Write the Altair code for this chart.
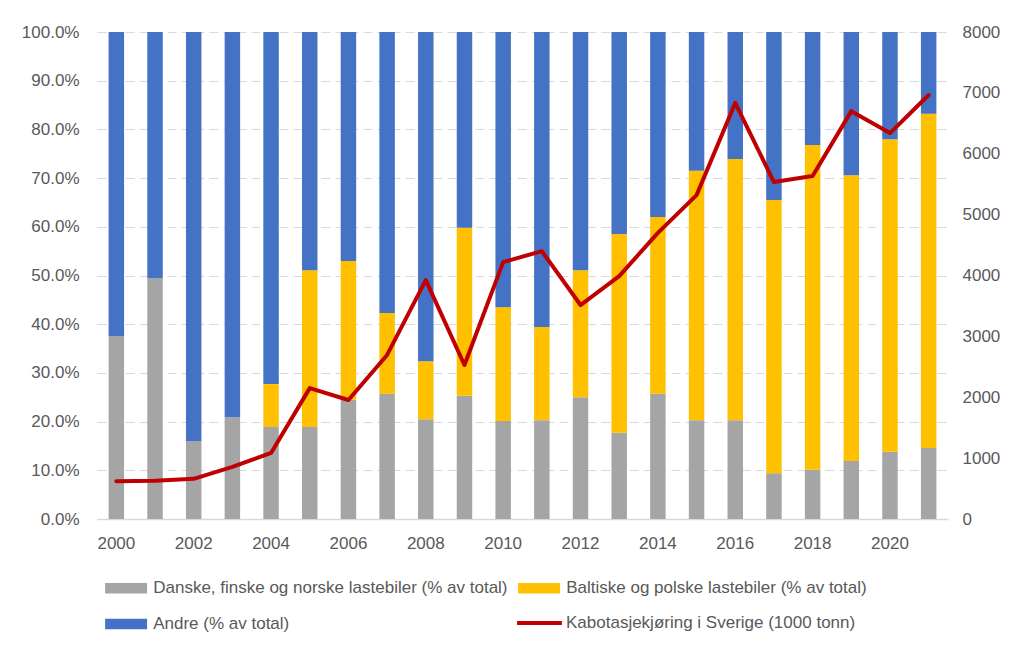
import altair as alt
import pandas as pd

years = list(range(2000, 2022))
danske = [37.6, 49.5, 16.0, 20.9, 18.9, 18.9, 24.5, 25.7, 20.5, 25.3, 20.1, 20.3,
          25.0, 17.7, 25.7, 20.3, 20.3, 9.4, 10.1, 11.9, 13.8, 14.6]
baltiske = [0, 0, 0, 0, 8.8, 32.2, 28.5, 16.6, 11.9, 34.5, 23.4, 19.1,
            26.1, 40.8, 36.3, 51.2, 53.6, 56.1, 66.7, 58.7, 64.2, 68.6]
andre = [62.4, 50.5, 84.0, 79.1, 72.3, 48.9, 47.0, 57.7, 67.6, 40.2, 56.5, 60.6,
         48.9, 41.5, 38.0, 28.5, 26.1, 34.5, 23.2, 29.4, 22.0, 16.8]
kabotasje = [620, 630, 660, 855, 1085, 2150, 1955, 2695, 3925, 2530, 4220, 4400,
             3515, 3990, 4700, 5320, 6835, 5535, 5635, 6700, 6340, 6965]

series_names = ["Danske, finske og norske lastebiler (% av total)",
                "Baltiske og polske lastebiler (% av total)",
                "Andre (% av total)"]
line_name = "Kabotasjekjøring i Sverige (1000 tonn)"
colors = ["#A5A5A5", "#FFC000", "#4472C4"]

rows = []
for i, y in enumerate(years):
    for k, (name, vals) in enumerate(zip(series_names, [danske, baltiske, andre])):
        rows.append({"year": y, "series": name, "value": vals[i], "ord": k})
df_bars = pd.DataFrame(rows)
df_line = pd.DataFrame({"year": years, "kt": kabotasje, "lbl": [line_name] * len(years)})

AXFONT = "Liberation Sans, Arial, sans-serif"
LGFONT = "Liberation Sans Narrow, Liberation Sans, sans-serif"
GREY = "#595959"

x_enc = alt.X("year:O",
              scale=alt.Scale(paddingInner=0.6, paddingOuter=0.3),
              axis=alt.Axis(values=list(range(2000, 2022, 2)), title=None, labelAngle=0,
                            ticks=False, domainColor="#D9D9D9", domainWidth=1.5,
                            labelPadding=16))

bars = alt.Chart(df_bars).mark_bar().encode(
    x=x_enc,
    y=alt.Y("value:Q", stack="zero",
            scale=alt.Scale(domain=[0, 100], nice=False),
            axis=alt.Axis(values=list(range(0, 101, 10)),
                          labelExpr="format(datum.value, '.1f') + '%'",
                          title=None, domain=False, ticks=False, grid=True,
                          gridDash=[9, 5], gridColor="#D9D9D9", labelPadding=18)),
    color=alt.Color("series:N",
                    scale=alt.Scale(domain=series_names, range=colors),
                    legend=alt.Legend(orient="none", legendX=20.6, legendY=547.5,
                                      direction="horizontal", columns=2, title=None,
                                      symbolType="M-3.93,-1H3.93V1H-3.93Z",
                                      symbolSize=114, symbolStrokeWidth=0,
                                      symbolOpacity=1,
                                      labelFontSize=17, labelColor=GREY, labelFont=LGFONT,
                                      labelLimit=600, columnPadding=10, rowPadding=18,
                                      labelOffset=18.6)),
    order=alt.Order("ord:Q"),
)

line = alt.Chart(df_line).mark_line(strokeWidth=4, strokeJoin="round", strokeCap="round").encode(
    x=alt.X("year:O"),
    y=alt.Y("kt:Q", scale=alt.Scale(domain=[0, 8000], nice=False),
            axis=alt.Axis(orient="right", values=list(range(0, 8001, 1000)), format="d",
                          title=None, domain=False, ticks=False, grid=False,
                          labelPadding=14)),
    stroke=alt.Stroke("lbl:N", scale=alt.Scale(domain=[line_name], range=["#C00000"]),
                      legend=alt.Legend(orient="none", legendX=434, legendY=582.5, title=None,
                                        symbolType="M-4.2,0H4.2", symbolSize=114,
                                        symbolStrokeWidth=4, symbolFillColor="transparent",
                                        labelFontSize=17, labelColor=GREY, labelFont=LGFONT,
                                        labelLimit=600, labelOffset=18)),
)

chart = alt.layer(bars, line).resolve_scale(y="independent").properties(
    width=851, height=487, autosize="none",
    padding={"left": 89, "top": 24, "right": 53, "bottom": 118},
).configure_view(stroke=None).configure_axis(
    labelFont=AXFONT, labelFontSize=17, labelColor=GREY
)

chart.save("out.html", embed_options={"renderer": "svg", "actions": False})
